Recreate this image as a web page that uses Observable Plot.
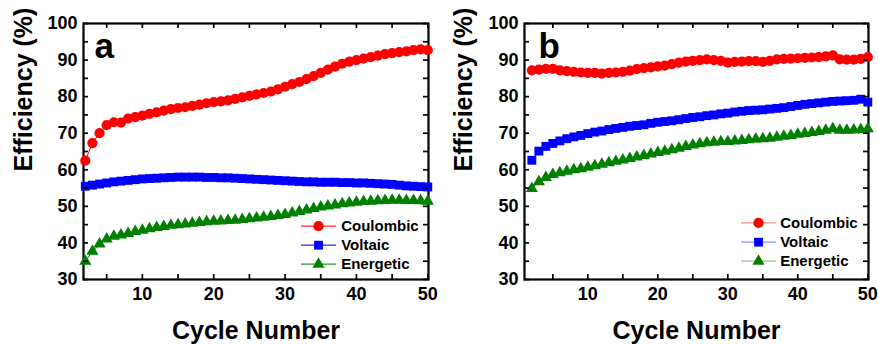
<!DOCTYPE html>
<html>
<head>
<meta charset="utf-8">
<script src="https://cdn.jsdelivr.net/npm/d3@7"></script>
<script src="https://cdn.jsdelivr.net/npm/@observablehq/plot@0.6"></script>
<style>
  html, body { margin: 0; padding: 0; background: #fff; }
  #row { display: flex; flex-direction: row; width: 878px; height: 344px; }
  svg { font-family: "Liberation Sans", Arial, sans-serif; }
</style>
</head>
<body>
<div id="row"></div>
<script>
// ---- data ----
const cycles = d3.range(2, 51); // cycle numbers 2..50
const seriesNames = ["Coulombic", "Voltaic", "Energetic"];
const seriesColors = ["#ff0000", "#0000ff", "#008000"];
const seriesSymbols = ["circle", "square", "triangle"];

const coulombicA = [62.5,67.3,70.0,72.2,73.0,72.9,74.0,74.4,74.8,75.3,75.7,76.2,76.6,76.9,77.1,77.5,77.8,78.2,78.5,78.7,79.0,79.4,79.8,80.2,80.6,81.0,81.4,82.0,82.7,83.4,84.0,84.8,85.6,86.5,87.4,88.2,89.0,89.6,90.0,90.4,90.8,91.2,91.6,91.9,92.2,92.4,92.7,92.9,92.7];
const voltaicA = [55.5,55.8,56.1,56.4,56.7,56.9,57.1,57.3,57.5,57.6,57.7,57.8,57.9,58.0,58.0,58.0,58.0,57.9,57.9,57.8,57.8,57.7,57.6,57.5,57.4,57.3,57.2,57.1,57.0,56.9,56.8,56.7,56.7,56.6,56.6,56.6,56.5,56.5,56.4,56.4,56.3,56.2,56.1,56.0,55.8,55.6,55.5,55.4,55.3];
const energeticA = [35.0,37.7,39.7,41.1,41.8,42.2,42.6,43.1,43.5,43.9,44.2,44.5,44.8,45.0,45.2,45.4,45.6,45.8,45.9,46.0,46.1,46.2,46.4,46.6,46.8,47.0,47.2,47.5,47.8,48.2,48.6,49.0,49.4,49.8,50.1,50.4,50.7,50.9,51.1,51.3,51.4,51.5,51.6,51.7,51.7,51.6,51.6,51.5,51.4];

const coulombicB = [87.2,87.4,87.6,87.6,87.2,87.0,86.8,86.6,86.5,86.5,86.3,86.5,86.6,86.8,87.1,87.5,87.8,88.0,88.3,88.5,88.9,89.3,89.6,89.8,90.0,90.2,90.0,89.8,89.3,89.5,89.6,89.7,89.7,89.5,89.8,90.2,90.3,90.4,90.5,90.6,90.7,90.8,91.0,91.3,90.2,90.1,90.1,90.3,90.8];
const voltaicB = [62.6,65.1,66.4,67.2,67.9,68.5,69.0,69.4,69.9,70.3,70.6,71.0,71.3,71.6,71.9,72.1,72.3,72.7,73.0,73.2,73.4,73.7,74.0,74.3,74.5,74.8,75.0,75.3,75.5,75.8,76.0,76.2,76.3,76.4,76.6,76.8,77.0,77.3,77.6,77.9,78.1,78.3,78.5,78.7,78.8,78.9,79.0,79.3,78.5];
const energeticB = [54.9,56.7,57.9,58.7,59.2,59.6,60.0,60.3,60.7,61.1,61.5,61.9,62.3,62.7,63.1,63.5,63.9,64.3,64.7,65.1,65.5,65.9,66.4,66.8,67.1,67.4,67.5,67.7,67.7,67.9,68.0,68.2,68.4,68.5,68.6,68.9,69.2,69.4,69.7,69.9,70.2,70.5,70.8,71.2,70.8,70.8,70.9,71.0,71.2];

const xTicks = [5,10,15,20,25,30,35,40,45,50];
const xLabels = [10,20,30,40,50];
const yTicks = [30,35,40,45,50,55,60,65,70,75,80,85,90,95,100];
const yLabels = [30,40,50,60,70,80,90,100];

// ---- drawing ----
const W = 439, H = 344, MT = 23, MB = 65;
const FONT = "'Liberation Sans', Arial, sans-serif";
const symbolR = {circle: 5.1, square: 5.0, triangle: 4.5};
const legendLine = {draw(ctx) { ctx.moveTo(-17.5, 0); ctx.lineTo(17.5, 0); }};

function panel({letter, values, xDomain, marginLeft, marginRight, letterDx, yTitleDx, legendDy, legendDx, legendTextDx, legendLineOpacity}) {
  const innerW = W - marginLeft - marginRight;
  const innerH = H - MT - MB;
  const marks = [];
  marks.push(Plot.frame({stroke: "black", strokeWidth: 2.2}));
  values.forEach((vals, i) => {
    const rows = cycles.map((c, j) => ({cycle: c, value: vals[j]}));
    marks.push(Plot.line(rows, {x: "cycle", y: "value", stroke: seriesColors[i], strokeWidth: 1}));
    marks.push(Plot.dot(rows, {x: "cycle", y: "value", symbol: seriesSymbols[i], r: symbolR[seriesSymbols[i]], fill: seriesColors[i], stroke: "none"}));
  });
  // inward ticks on all four sides
  marks.push(Plot.tickX(xTicks, {x: d => d, insetTop: innerH - 5, stroke: "black", strokeWidth: 1.7}));
  marks.push(Plot.tickX(xTicks, {x: d => d, insetBottom: innerH - 5, stroke: "black", strokeWidth: 1.7}));
  marks.push(Plot.tickY(yTicks, {y: d => d, insetRight: innerW - 5, stroke: "black", strokeWidth: 1.7}));
  marks.push(Plot.tickY(yTicks, {y: d => d, insetLeft: innerW - 5, stroke: "black", strokeWidth: 1.7}));
  // tick labels
  marks.push(Plot.axisX({ticks: xLabels, tickSize: 0, tickPadding: 8, fontSize: 18, fontWeight: "bold", label: null}));
  marks.push(Plot.axisY({ticks: yLabels, tickSize: 0, tickPadding: 6, fontSize: 18, fontWeight: "bold", label: null}));
  // axis titles
  marks.push(Plot.text(["Cycle Number"], {text: d => d, frameAnchor: "bottom", lineAnchor: "bottom", dy: 59, fontSize: 25, fontWeight: "bold"}));
  marks.push(Plot.text(["Efficiency (%)"], {text: d => d, frameAnchor: "left", rotate: -90, lineAnchor: "middle", dx: yTitleDx, dy: 20, fontSize: 25, fontWeight: "bold"}));
  // panel letter
  marks.push(Plot.text([letter], {text: d => d, frameAnchor: "top-left", textAnchor: "start", lineAnchor: "bottom", dx: letterDx, dy: 34, fontSize: 35, fontWeight: "bold"}));
  // legend
  seriesNames.forEach((name, i) => {
    const dy = legendDy[i];
    marks.push(Plot.dot([name], {frameAnchor: "bottom-right", dx: legendDx, dy, symbol: legendLine, fill: "none", stroke: seriesColors[i], strokeWidth: 1.3, strokeOpacity: legendLineOpacity}));
    marks.push(Plot.dot([name], {frameAnchor: "bottom-right", dx: legendDx, dy, symbol: seriesSymbols[i], r: symbolR[seriesSymbols[i]], fill: seriesColors[i], stroke: "none"}));
    marks.push(Plot.text([name], {text: d => d, frameAnchor: "bottom-right", textAnchor: "start", lineAnchor: "middle", dx: legendTextDx, dy, fontSize: 15, fontWeight: "bold"}));
  });
  return Plot.plot({
    width: W, height: H,
    marginLeft, marginRight, marginTop: MT, marginBottom: MB,
    style: {fontFamily: FONT, fontWeight: "bold", color: "black", background: "white", overflow: "visible"},
    x: {domain: xDomain},
    y: {domain: [30, 100]},
    marks
  });
}

const row = document.getElementById("row");
row.append(panel({
  letter: "a", values: [coulombicA, voltaicA, energeticA],
  xDomain: [1.75, 50.1], marginLeft: 83, marginRight: 11,
  letterDx: 11, yTitleDx: -60,
  legendDy: [-53.3, -34.3, -15.3], legendDx: -110, legendTextDx: -87.3, legendLineOpacity: 0.85
}));
row.append(panel({
  letter: "b", values: [coulombicB, voltaicB, energeticB],
  xDomain: [0.95, 50.1], marginLeft: 85, marginRight: 10,
  letterDx: 14, yTitleDx: -61,
  legendDy: [-56.6, -37.3, -18.3], legendDx: -110, legendTextDx: -88.3, legendLineOpacity: 0.45
}));
</script>
</body>
</html>
